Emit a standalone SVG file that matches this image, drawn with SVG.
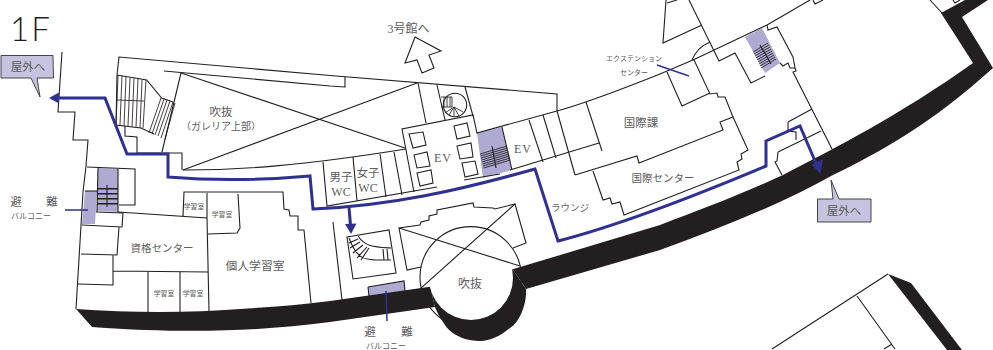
<svg xmlns="http://www.w3.org/2000/svg" width="993" height="350" viewBox="0 0 993 350">
<style>
.w{fill:none;stroke:#231f20;stroke-width:1.1;stroke-linejoin:miter}
.h{fill:none;stroke:#231f20;stroke-width:.85}
.k{fill:#231f20;stroke:none}
.s{fill:#aeaad2;stroke:none}
.r{fill:none;stroke:#2e3192;stroke-width:3;stroke-linejoin:miter}
.l{fill:none;stroke:#2e3192;stroke-width:1.5}
.a{fill:#2e3192;stroke:none}
.b{fill:#c5c3e0;stroke:#333;stroke-width:.9;stroke-linejoin:round}
text{font-family:"Noto Sans CJK JP","Noto Sans",sans-serif;fill:#5c5c5c;text-anchor:middle}
.e{font-family:"Liberation Serif","Noto Sans CJK JP",serif}
</style>
<text x="10" y="41" font-size="33" style="font-family:Lato,'Open Sans',sans-serif;font-weight:300;text-anchor:start;letter-spacing:2px;fill:#231f20">1F</text>

<g id="shaded">
<path class="s" d="M98 168L118 169L118 212L97 211Z"/>
<path class="s" d="M85 191L97 191L95 224L82 224Z"/>
<path class="s" d="M477 133L502 127L512 170L483 178Z"/>
<path class="s" d="M745 37L762 28L780 63L765 73Z"/>
<path class="s" d="M368 287L404 281L405 293L369 298Z"/>
</g>

<g id="walls">
<circle class="w" cx="470.700" cy="277.300" r="50.700"/>
<path class="w" d="M62 52L58 112L75 112L73 140L88 140L86 166L83 192L76 309"/>
<path class="w" d="M117 75L119 57L330 75.500L557 94L557 111"/>
<path class="w" d="M164 71L330 86L345 87L345 77"/>
<path class="w" d="M117 75L146.700 80L161.700 98L173 102M117 75L116 125L141 128L154 134M181 73L162 152"/>
<path class="w" d="M125 126L125 136L137 137L137 153L182 153L182 170"/>
<path class="w" d="M183 170C240 170 300 166 406 149"/>
<path class="w" d="M181 73L405 148M183 170L417 83"/>
<path class="w" d="M323 162L327 206L437 187M353 157L357 201M380 154L386 197M394 152L402 195"/>
<path class="w" d="M414 192L402 129L473 115L477 133L557 111C590 102 625 88 660 74L693 60L767 25L810 0"/>
<path class="w" d="M464 180L500 174"/>
<path class="w" d="M418 83L426 123M437 85L445 120M465 87L473 116"/>
<path class="w" d="M502 127L512 170M529 120L543 162M543 115L556 158M557 111L575 175M586 102L602 151M510 170L599 143"/>
<path class="w" d="M409 134L423 132L426 145L413 148ZM414 155L427 152L430 166L417 168ZM417 173L431 170L433 183L420 186ZM454 126L467 123L470 136L457 139ZM457 146L471 143L473 157L460 159ZM462 163L475 161L478 174L465 177Z"/>
<path class="w" d="M575 175L637 156L639 163L723 130L720 122L733 117L748 150L741 154L742 159L737 162L739 170L624 215L620 202L612 204L610 198L603 200L593 171"/>
<path class="w" d="M733 117L725 97L718 97L717 93L710 94L694 60"/>
<path class="w" d="M667 72L682 106L710 93"/>
<path class="w" d="M689 0L719 61L735 53L751 83L765 76"/>
<path class="w" d="M692 60C696 50 703 45 710 42"/>
<path class="w" d="M666 0L663 43L702 25M667 3L677 0"/>
<path class="w" d="M767 25L768 30L777 27L793 57L795 68M780 63L783 66L788 63L790 68L795 68L796 71L793 72L832 149"/>
<path class="w" d="M788 122L812 109M788 122L788 131L796 132L796 140M778 152L821 131M778 152L777 161L775 162L782 175"/>
<path class="w" d="M813 0L815 4L823 0M930 0L942 13M953 0L955 3L960 0"/>
<path class="w" d="M87 167L135 169L135 205L119 205M118 169L118 212M98 168L97 212"/>
<path class="w" d="M85 191L97 191"/>
<path class="w" d="M96 212L123 213L122 227L82 225M119 227L117 255L81 254M113 255L113 285L78 284M113 271L208 272M148 272L148 312M180 272L180 312"/>
<path class="w" d="M118 212L207 218L209 311M183 216L184 192L283 192L284 209L289 210L290 216L298 216L298 230L304 230L311 303M207 193L207 218M238 194L240 228L237 233L208 234"/>
<path class="w" d="M333 222L342 300"/>
<path class="w" d="M347 237L389 230L396 273L353 279ZM368 287L404 281L405 291M368 287L369 296"/>
<path class="w" d="M358 236C365 247 375 247 391 248M349 238C358 262 365 260 391 260M349 243L358 239M350 248L360 242M353 253L363 245M357 258L367 247M361 260L369 248M383 249L384 260M387 249L388 260"/>
<path class="w" d="M421 267L407 270L399 228L420 225L421 222L429 220L429 216L437 214L437 210L473 203L474 207L493 208L495 209L515 204L526 243L513 248"/>
<path class="w" d="M888 274L772 349M857 296L895 349M884 349L892 344"/>
<circle class="w" cx="455" cy="105" r="11.700"/>
<path class="h" d="M441 97L452 97L452 107L441 107M444 97L444 107M447 97L447 107M450 97L450 107M454 107L445 113M454 107L449 115M454 107L454 116M454 107L459 116M454 107L463 112"/>
</g>

<g id="stairs">
<path class="h" d="M118 76L116 125M122 76L120 125M126 77L124 126M130 78L128 126M134 78L132 127M138 79L136 127M142 80L140 128M146 80L143 128M117 100L144 101M161 98L149 133M164 99L152 134M167 100L155 135M170 101L158 136M173 102L161 138M175 103L165 139"/>
<path class="h" d="M480 154L507 146M480.500 156L507.500 148M481 158L508 150M481.500 160L508.500 152M482 162L509 154M482.500 164L509.500 156M483 166L510 158M483.500 168L510.500 160"/>
<path class="w" d="M492 146L496 168"/>
<path class="h" d="M753 52L768 43M754 54L769 45M755 56L770 47M756 58L771 49M757 60L772 51M758 62L773 53M759 64L774 55M760 66L775 57M761 68L776 59"/>
<path class="w" d="M760 45L771 64"/>
<path class="k" d="M97 188h21v1.500h-21zM97 193h21v1.500h-21zM97 198h21v1.500h-21zM97 203h21v1.500h-21z"/>
<path class="w" d="M107 185L107 207"/>
</g>

<g id="outer-wall">
<path class="k" d="M76 309C130 313 190 313 240 309C270 307 300 305 330 301L430 286.700L435 307L330 322C260 331 190 334 92 327Z"/>
<path class="k" d="M941 13L965 0L988 0L962 17L993 68C930 125 880 152 833 175C780 205 720 228 660 250L526 289L512.700 269.300L660 225C700 210 740 195 783 175C835 148 900 115 973 63Z"/>
<path class="k" d="M526 289C527 303 520 322 510 328C500 336 490 341 480 341C470 341 452 338 443 322C440 318 437 312 435 307L430 286.700L471 278L512.700 269.300Z"/>
<path class="k" d="M888 274L911 283L962 350L947 350Z"/>
<circle cx="471" cy="278" r="42" fill="#fff"/>
</g>

<g id="atrium-lines">
<path class="w" d="M399 228L520 266M420.700 288.300L515 204"/>
</g>

<g id="connectors">
<path class="r" d="M56 98L105 98L127 154L168 154L168 177C215 181 265 180 310 176L313 209C390 206 460 190 535 169L558 241C620 225 690 198 766 166L766 141L800 126L818 168"/>
<path class="a" d="M49 98L59 92.500L59 103.500Z"/>
<path class="r" d="M349 208L350.500 225"/>
<path class="a" d="M351 234L345 224L356.500 223.500Z"/>
<path class="a" d="M820.500 174L811.500 164.500L823 159Z"/>
<path class="l" d="M65 210L88 210M386 291L387 321M657 65L689 76"/>
</g>

<g id="arrow-3gokan"><path class="w" d="M415 37L441 51L429 55L434 68L422 73L417 60L405 63Z"/><text x="408.500" y="33" font-size="12"><tspan class="e">3</tspan>号館へ</text></g>
<g id="balloon-left"><path class="b" d="M1 55.500L53 55.500L53.500 78L37 78L40 97L31 78L1 78Z"/><text x="28" y="71" font-size="11.500">屋外へ</text></g>
<g id="balloon-right"><path class="b" d="M817.500 199L833 199L831 180L839 199L871 199L871 222L817.500 222Z"/><text x="844" y="215" font-size="11.500">屋外へ</text></g>

<g id="labels">
<text x="221" y="116" font-size="11.500">吹抜</text>
<text x="221" y="130" font-size="10">（ガレリア上部）</text>
<text x="443" y="162" font-size="12" class="e" letter-spacing="1">EV</text>
<text x="523" y="153" font-size="12" class="e" letter-spacing="1">EV</text>
<text x="341" y="181" font-size="11.500">男子</text>
<text x="341" y="196" font-size="12" class="e">WC</text>
<text x="368" y="177" font-size="11.500">女子</text>
<text x="368" y="192" font-size="12" class="e">WC</text>
<text x="634" y="61" font-size="7">エクステンション</text>
<text x="634" y="75" font-size="7">センター</text>
<text x="641" y="127" font-size="11.500">国際課</text>
<text x="663" y="182" font-size="10.500">国際センター</text>
<text x="570" y="211" font-size="9.500">ラウンジ</text>
<text x="16" y="206" font-size="11.500">避</text>
<text x="52" y="206" font-size="11.500">難</text>
<text x="31" y="219" font-size="8">バルコニー</text>
<text x="162" y="252" font-size="10.500">資格センター</text>
<text x="255" y="270" font-size="11.800">個人学習室</text>
<text x="194" y="209" font-size="6.800">学習室</text>
<text x="222" y="217" font-size="6.800">学習室</text>
<text x="164" y="296" font-size="6.800">学習室</text>
<text x="193" y="296" font-size="6.800">学習室</text>
<text x="470" y="288" font-size="12">吹抜</text>
<text x="370" y="336" font-size="11.500">避</text>
<text x="407" y="336" font-size="11.500">難</text>
<text x="386" y="348.500" font-size="8">バルコニー</text>
</g>
</svg>
